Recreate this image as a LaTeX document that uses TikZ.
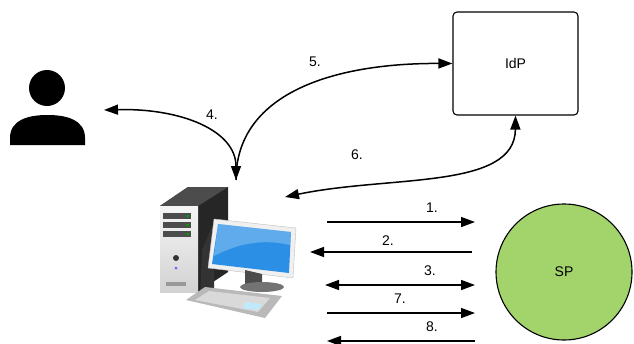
\documentclass[tikz,border=0pt]{standalone}
\usepackage{fontspec}
\setmainfont{Liberation Sans}
\usetikzlibrary{arrows.meta}

\definecolor{spgreen}{HTML}{A3D46C}
\definecolor{screenblue}{HTML}{2C8FE6}

\tikzset{
  msg/.style={line width=1.5pt},
  lbl/.style={font=\fontsize{14}{16}\selectfont},
  party/.style={draw, line width=1.1pt, font=\fontsize{14}{16}\selectfont},
}

\begin{document}
\begin{tikzpicture}[x=1pt, y=-1pt, >={Triangle[length=14pt,width=10pt]}]
\useasboundingbox (0,0) rectangle (634,343);

% user
\fill (47,88) circle (18pt);
\fill (10,145) -- (10,138) .. controls (10,120) and (28,115) .. (47.5,115)
      .. controls (67,115) and (85,120) .. (85,138) -- (85,145) -- cycle;
\coordinate (user) at (104,110);

% computer: tower
\fill[black!85] (160,206) -- (188,187) -- (228,187) -- (228,272) -- (198,292) -- (198,206) -- cycle;
\fill[black!70] (160,206) -- (188,187) -- (228,187) -- (198,206) -- cycle;
\shade[top color=gray!8, bottom color=gray!35] (160,206) rectangle (198,292);
\foreach \yy in {213,222,231}{
  \fill[black!70] (163,\yy) rectangle (191,\yy+6);
  \fill[green!60!black] (186,\yy+2) rectangle (189,\yy+4);
}
\fill[black!80] (176,258) circle (3pt);
\fill[blue!60] (176,268) circle (1.5pt);
\fill[black!40] (166,282) rectangle (186,286);

% computer: monitor
\fill[black!80] (202,250) -- (214,222) -- (214,300) -- (200,300) -- cycle;
\fill[gray!12] (214,219) -- (296,228) -- (293,278) -- (208,268) -- cycle;
\draw[gray!50, thin] (214,219) -- (296,228) -- (293,278) -- (208,268) -- cycle;
\fill[screenblue] (218,224) -- (291,232) -- (289,273) -- (212,264) -- cycle;
\fill[white, opacity=0.25] (218,224) -- (291,232) -- (290,245)
      .. controls (260,238) and (235,245) .. (214,256) -- cycle;
\fill[black!70] (245,270) -- (262,274) -- (262,284) -- (245,284) -- cycle;
\fill[black!55] (262,287) ellipse (22pt and 5pt);
% computer: keyboard
\fill[gray!55] (186,300) -- (205,287) -- (282,296) -- (265,318) -- cycle;
\fill[gray!30] (195,300) -- (209,291) -- (270,298) -- (258,312) -- cycle;
\fill[cyan!25] (246,302) -- (262,304) -- (258,310) -- (242,308) -- cycle;
\coordinate (pc) at (236,180);
\coordinate (pcside) at (285,197);

% providers
\node[party, rounded corners=4pt, minimum width=125pt, minimum height=103pt] (idp) at (515.5,63.5) {IdP};
\node[party, circle, fill=spgreen, minimum size=136pt] (sp) at (564,272) {SP};

% curved messages
\draw[msg, <->] (user) .. controls (180,108) and (236,130) .. (pc);
\draw[msg, ->] (pc) .. controls (236,95) and (330,63) .. (idp.west);
\draw[msg, <->] (pcside) .. controls (390,175) and (515,190) .. (idp.south);
\node[lbl] (n4) at (212,115) {4.};
\node[lbl] (n5) at (315,62) {5.};
\node[lbl] (n6) at (357,155) {6.};

% straight messages
\coordinate (a1) at (327,222); \coordinate (b1) at (475,222);
\coordinate (a2) at (310,252); \coordinate (b2) at (472,252);
\coordinate (a3) at (325,285); \coordinate (b3) at (475,285);
\coordinate (a7) at (327,313); \coordinate (b7) at (475,313);
\coordinate (a8) at (327,341); \coordinate (b8) at (475,341);
\draw[msg, ->] (a1) -- (b1);
\draw[msg, <-] (a2) -- (b2);
\draw[msg, <->] (a3) -- (b3);
\draw[msg, ->] (a7) -- (b7);
\draw[msg, <-] (a8) -- (b8);
\node[lbl] (n1) at (432,208) {1.};
\node[lbl] (n2) at (388,241) {2.};
\node[lbl] (n3) at (430,271) {3.};
\node[lbl] (n7) at (400,299) {7.};
\node[lbl] (n8) at (432,327) {8.};
\end{tikzpicture}
\end{document}
